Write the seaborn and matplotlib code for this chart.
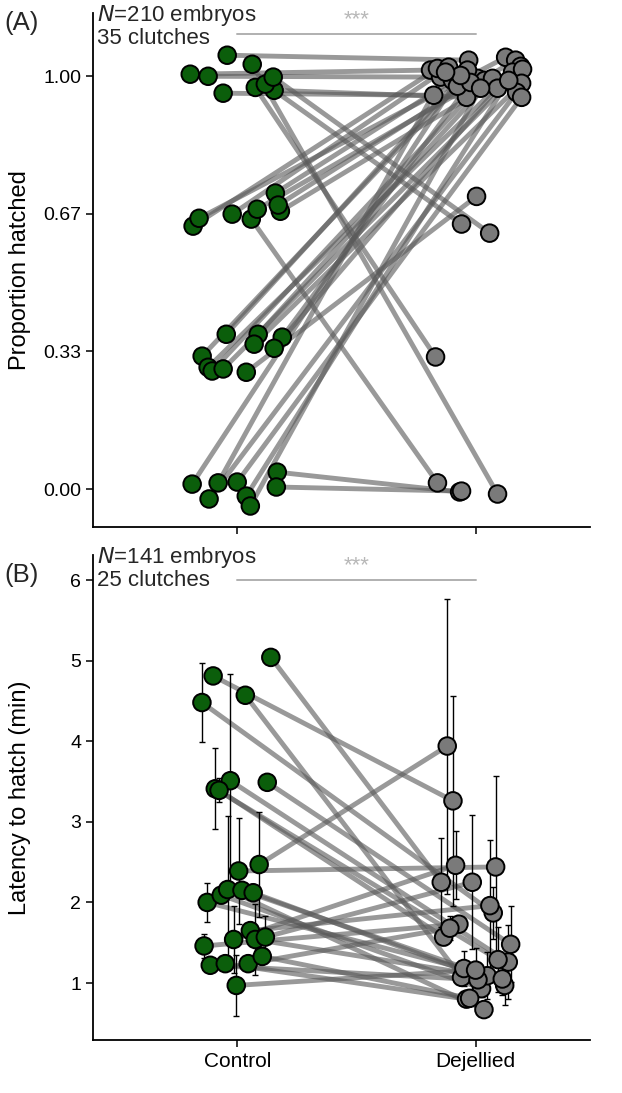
import numpy as np
import pandas as pd
import matplotlib
matplotlib.use("Agg")
import matplotlib.pyplot as plt
import seaborn as sns

# ---- Panel A: proportion hatched per clutch (plotted, jittered values) ----
ctrl_a = [1.005, 1.000, 1.051, 0.959, 0.966, 1.029, 0.973, 0.981, 0.998,
          0.637, 0.656, 0.666, 0.654, 0.678, 0.717, 0.673, 0.688,
          0.375, 0.322, 0.295, 0.286, 0.291, 0.283, 0.375, 0.351, 0.368, 0.341,
          0.012, -0.024, 0.015, 0.017, -0.017, -0.041, 0.041, 0.005]
ctrl_a_dx = [-0.197, -0.122, -0.042, -0.059, 0.155, 0.063, 0.076, 0.118, 0.151,
             -0.185, -0.160, -0.021, 0.059, 0.084, 0.160, 0.181, 0.172,
             -0.046, -0.147, -0.122, -0.105, -0.059, 0.038, 0.088, 0.071, 0.189, 0.155,
             -0.189, -0.118, -0.080, 0.000, 0.038, 0.055, 0.168, 0.164]
dej_a = [1.015, 0.998, 1.039, 0.954, 0.949, -0.012, 0.320, 0.642, 0.620,
         1.019, 1.046, 1.022, 0.015, 1.039, 0.990, 1.024, 0.995,
         1.015, 0.976, 1.010, 0.990, 1.017, 0.709, 0.995, 0.983, 0.985, 0.971,
         1.002, 0.961, 1.010, 0.949, 0.990, 0.971, -0.007, -0.005]
dej_a_dx = [-0.189, -0.147, -0.029, -0.176, -0.038, 0.092, -0.168, -0.059, 0.059,
            -0.160, 0.126, -0.113, -0.160, 0.168, -0.097, 0.189, 0.008,
            -0.034, -0.076, 0.155, 0.038, 0.197, 0.004, 0.071, 0.193, -0.021, 0.092,
            -0.063, 0.172, -0.126, 0.193, 0.139, 0.021, -0.067, -0.059]

# ---- Panel B: latency to hatch (min), mean +- error per clutch ----
ctrl_b = [5.04, 4.81, 4.48, 4.57, 3.51, 3.41, 3.39, 3.49, 2.00, 2.09, 2.16, 2.39, 2.15,
          2.12, 2.47, 1.46, 1.22, 1.24, 1.54, 1.65, 1.54, 1.57, 1.24, 1.33, 0.97]
ctrl_b_err = [0.0, 0.0, 0.49, 0.0, 1.32, 0.50, 0.15, 0.0, 0.24, 0.0, 0.91, 0.66, 0.0,
              0.0, 0.65, 0.15, 0.0, 0.0, 0.41, 0.0, 0.44, 0.26, 0.0, 0.10, 0.38]
ctrl_b_dx = [0.141, -0.101, -0.148, 0.034, -0.029, -0.092, -0.076, 0.126, -0.126, -0.067,
             -0.040, 0.006, 0.020, 0.067, 0.092, -0.139, -0.113, -0.050, -0.015, 0.055,
             0.076, 0.118, 0.046, 0.105, -0.004]
dej_b = [2.25, 3.26, 1.87, 1.07, 1.26, 1.29, 1.57, 1.48, 1.18, 0.93, 0.67, 2.44, 1.09,
         0.97, 3.94, 1.73, 1.04, 0.80, 2.46, 1.96, 1.05, 2.25, 1.68, 0.81, 1.16]
dej_b_err = [0.55, 1.30, 0.32, 0.10, 0.46, 0.40, 0.10, 0.47, 0.22, 0.10, 0.05, 1.13, 0.29,
             0.24, 1.83, 0.10, 0.10, 0.05, 0.42, 0.81, 0.20, 0.83, 0.15, 0.05, 0.27]
dej_b_dx = [-0.144, -0.095, 0.074, -0.059, 0.137, 0.094, -0.134, 0.147, -0.049, 0.025,
            0.035, 0.084, 0.049, 0.122, -0.119, -0.070, 0.010, -0.038, -0.084, 0.060,
            0.112, -0.014, -0.108, -0.025, 0.000]

treatments = ["Control", "Dejellied"]
colors = {"Control": "#0b5e0b", "Dejellied": "#7a7a7a"}


def long_form(c, cdx, d, ddx):
    rows = []
    for i in range(len(c)):
        rows.append({"clutch": i, "treatment": "Control", "x": 0 + cdx[i], "y": c[i]})
        rows.append({"clutch": i, "treatment": "Dejellied", "x": 1 + ddx[i], "y": d[i]})
    return pd.DataFrame(rows)


dfa = long_form(ctrl_a, ctrl_a_dx, dej_a, dej_a_dx)
dfb = long_form(ctrl_b, ctrl_b_dx, dej_b, dej_b_dx)
dfb["err"] = [e for pair in zip(ctrl_b_err, dej_b_err) for e in pair]

sns.set_theme(style="ticks")
plt.rcParams["font.family"] = ["Liberation Sans", "DejaVu Sans"]

fig = plt.figure(figsize=(6.22, 10.93), dpi=100)
axA = fig.add_axes([0.1495, 0.5178, 0.7991, 0.4702])
axB = fig.add_axes([0.1495, 0.0485, 0.7991, 0.4437])


def draw(ax, df, with_err=False):
    sns.lineplot(data=df, x="x", y="y", units="clutch", estimator=None, sort=False,
                 color="#5a5a5a", alpha=0.62, lw=3.5, ax=ax, legend=False, zorder=1)
    if with_err:
        for _, r in df.iterrows():
            if r["err"] > 0:
                ax.errorbar(r["x"], r["y"], yerr=r["err"], fmt="none", ecolor="black",
                            elinewidth=1.0, capsize=2.5, capthick=1.0, zorder=2)
    sns.scatterplot(data=df, x="x", y="y", hue="treatment", palette=colors,
                    s=160, edgecolor="black", linewidth=1.4, ax=ax, legend=False, zorder=3)
    ax.set_xlim(-0.605, 1.48)
    ax.set_xticks([0, 1])
    for s in ["top", "right"]:
        ax.spines[s].set_visible(False)
    for s in ["left", "bottom"]:
        ax.spines[s].set_linewidth(1.3)
        ax.spines[s].set_color("black")
    ax.tick_params(axis="y", length=5, width=1.1, color="black", labelsize=14,
                   labelcolor="black")
    ax.tick_params(axis="x", length=5, width=1.1, color="black", labelsize=15,
                   labelcolor="black")


draw(axA, dfa)
axA.set_ylim(-0.092, 1.153)
axA.set_yticks([0, 1 / 3, 2 / 3, 1])
axA.set_yticklabels(["0.00", "0.33", "0.67", "1.00"])
axA.set_xticklabels(["", ""])
axA.set_xlabel("")
axA.set_ylabel("Proportion hatched", fontsize=17, color="black")
axA.plot([0, 1], [1.102, 1.102], color="#b0b0b0", lw=1.4)
axA.text(0.5, 1.137, "***", color="#b8b8b8", ha="center", va="center", fontsize=16)

draw(axB, dfb, with_err=True)
axB.set_ylim(0.293, 6.31)
axB.set_yticks([1, 2, 3, 4, 5, 6])
axB.set_xticklabels(treatments)
axB.set_xlabel("")
axB.set_ylabel("Latency to hatch (min)", fontsize=17, color="black")
axB.plot([0, 1], [6.0, 6.0], color="#b0b0b0", lw=1.4)
axB.text(0.5, 6.18, "***", color="#b8b8b8", ha="center", va="center", fontsize=16)

axA.yaxis.set_label_coords(-0.124, 0.5)
axB.yaxis.set_label_coords(-0.124, 0.5)

fig.text(97 / 622, 1 - 3 / 1093, "$\\it{N}$=210 embryos\n35 clutches", ha="left", va="top",
         fontsize=16, linespacing=0.98)
fig.text(97 / 622, 1 - 545 / 1093, "$\\it{N}$=141 embryos\n25 clutches", ha="left", va="top",
         fontsize=16, linespacing=0.98)
fig.text(4 / 622, 1 - 23 / 1093, "(A)", ha="left", va="center", fontsize=18.5)
fig.text(4 / 622, 1 - 575 / 1093, "(B)", ha="left", va="center", fontsize=18.5)

fig.savefig("out.png", dpi=100)
